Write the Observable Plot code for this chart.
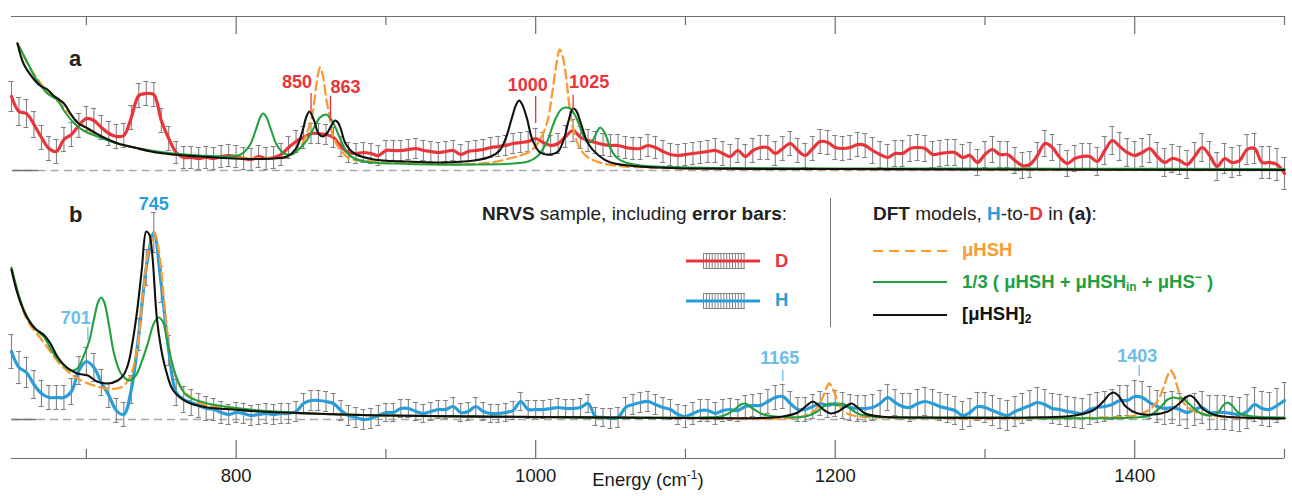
<!DOCTYPE html>
<html><head><meta charset="utf-8">
<script src="https://cdn.jsdelivr.net/npm/d3@7"></script>
<script src="https://cdn.jsdelivr.net/npm/@observablehq/plot@0.6"></script>
<style>
html,body{margin:0;padding:0;background:#fff;}
#wrap{position:relative;width:1292px;height:496px;font-family:"Liberation Sans",Arial,Helvetica,sans-serif;color:#222;overflow:hidden;}
#wrap svg.layer{position:absolute;left:0;top:0;}
.abs{position:absolute;white-space:nowrap;line-height:20px;}
.abs sub{font-size:0.65em;vertical-align:-0.25em;line-height:0;}
.abs sup{font-size:0.65em;vertical-align:0.55em;line-height:0;}
</style></head><body><div id="wrap"></div>
<script>
// ---------------- DATA ----------------
const energy = d3.range(650, 1505, 5); // NRVS sampling grid (cm-1)

// panel a: D sample (arbitrary intensity units)
const dSignal = [
 7.4,5.9,5.7,4.6,3.3,2.2,1.9,3.1,3.6,4.5,
 5.2,5.0,4.3,3.7,3.4,3.5,5.3,7.5,7.7,7.6,
 5.0,3.2,1.8,1.3,1.3,1.2,1.3,1.2,1.4,1.5,
 1.4,1.2,1.1,1.4,1.2,1.3,1.6,2.3,2.9,3.3,
 3.7,3.7,3.6,3.3,2.4,1.8,1.7,1.8,1.7,1.5,
 2.0,2.0,2.0,2.1,2.2,2.0,1.9,1.8,1.9,2.0,
 1.6,1.9,2.0,2.1,2.3,2.4,2.5,2.7,2.8,2.9,
 3.2,2.8,2.5,2.7,3.4,4.0,3.3,3.0,2.8,2.6,
 2.5,2.5,2.3,2.2,2.2,2.5,2.3,1.9,1.6,1.5,
 1.6,1.7,1.8,1.9,2.0,1.7,1.4,2.0,1.4,2.0,
 2.3,2.3,1.7,2.2,2.7,2.0,1.5,2.2,2.9,2.8,
 2.3,2.2,2.3,2.6,2.5,2.0,1.6,1.3,1.7,1.7,
 2.2,2.3,2.2,1.6,1.7,1.8,1.8,1.3,1.5,0.8,
 1.6,2.1,1.6,1.6,1.0,0.5,0.6,1.5,2.7,2.3,
 1.3,0.7,1.2,1.4,1.4,0.9,2.0,3.0,2.4,1.8,
 1.5,1.8,2.2,1.4,0.8,1.2,1.0,0.6,1.4,2.3,
 1.5,0.4,1.2,0.8,1.0,2.1,2.2,0.8,0.8,0.6,
 -0.3];
const dError = [
 1.5,1.4,1.4,1.3,1.2,1.2,1.2,1.2,1.2,1.2,
 1.2,1.2,1.2,1.2,1.2,1.2,1.2,1.2,1.2,1.2,
 1.2,1.2,1.1,1.1,1.1,1.1,1.1,1.1,1.1,1.1,
 1.1,1.1,1.1,1.1,1.1,1.1,1.1,1.1,1.1,1.1,
 1.0,1.0,1.0,1.0,1.0,1.0,1.0,1.0,1.0,1.0,
 1.0,1.0,1.0,1.0,1.0,1.0,1.0,1.0,1.0,1.0,
 1.0,1.0,1.0,1.0,1.0,1.0,1.0,1.0,1.0,1.0,
 1.0,1.0,1.0,1.0,1.1,1.1,1.1,1.1,1.1,1.1,
 1.1,1.1,1.1,1.1,1.1,1.1,1.1,1.1,1.1,1.1,
 1.1,1.1,1.1,1.1,1.2,1.2,1.2,1.2,1.2,1.2,
 1.2,1.2,1.2,1.2,1.2,1.2,1.2,1.2,1.2,1.2,
 1.2,1.2,1.2,1.2,1.2,1.3,1.3,1.3,1.3,1.3,
 1.3,1.3,1.3,1.3,1.3,1.3,1.3,1.3,1.3,1.3,
 1.3,1.3,1.3,1.3,1.3,1.3,1.3,1.3,1.3,1.3,
 1.3,1.3,1.3,1.3,1.3,1.4,1.4,1.4,1.4,1.4,
 1.4,1.4,1.4,1.4,1.4,1.4,1.4,1.4,1.4,1.4,
 1.4,1.4,1.5,1.5,1.5,1.5,1.5,1.6,1.6,1.6,
 1.6];

// panel b: H sample
const hSignal = [
 6.8,5.2,4.7,3.5,2.6,2.2,2.2,2.2,2.8,4.9,
 5.8,5.2,3.7,2.4,0.9,0.5,3.0,8.5,15.2,18.7,
 13.5,6.9,2.7,2.0,1.7,1.4,1.1,1.0,0.7,0.5,
 0.7,0.6,0.4,0.5,0.6,0.5,0.6,0.6,0.8,1.6,
 1.9,1.9,1.8,1.6,0.9,0.4,0.2,0.0,0.1,0.4,
 0.7,0.7,1.1,1.1,0.8,0.6,0.8,1.0,1.0,1.3,
 0.7,0.8,1.3,0.8,0.6,0.6,0.7,0.9,1.8,1.0,
 1.0,1.0,1.1,1.2,1.1,1.1,1.2,1.6,0.3,0.2,
 0.1,0.2,1.2,1.5,1.7,1.8,1.5,1.2,1.0,0.5,
 0.3,0.6,0.9,0.9,0.6,0.9,1.0,0.9,1.3,1.4,
 1.4,1.8,2.2,2.3,1.6,1.0,1.0,1.3,1.6,1.4,
 1.6,1.4,1.2,1.1,1.1,1.2,1.6,2.2,1.7,1.3,
 1.2,1.6,1.8,1.6,1.3,1.1,0.9,0.4,0.7,1.3,
 1.2,0.9,0.6,0.4,0.8,1.1,1.4,1.7,1.5,1.1,
 1.0,0.8,0.7,0.6,1.0,1.2,1.3,1.5,1.9,1.9,
 2.3,2.2,1.7,1.3,1.1,1.2,1.0,0.7,1.0,1.2,
 0.7,0.7,0.7,0.6,0.5,0.8,1.5,1.1,1.0,1.4,
 1.9];
const hError = [
 1.7,1.6,1.5,1.4,1.3,1.2,1.2,1.2,1.3,1.4,
 1.4,1.4,1.3,1.2,1.2,1.2,1.4,1.6,1.8,2.0,
 1.8,1.5,1.3,1.3,1.3,1.2,1.2,1.1,1.1,1.0,
 1.0,1.0,1.0,1.0,1.0,1.0,1.0,1.0,1.0,1.0,
 1.0,1.0,1.0,1.0,1.0,1.0,1.0,1.0,1.0,1.0,
 0.9,0.9,0.9,0.9,0.9,0.9,0.9,0.9,0.9,0.9,
 0.9,0.9,0.9,0.9,0.9,0.9,0.9,0.9,0.9,0.9,
 0.9,0.9,0.9,0.9,0.9,0.9,0.9,0.9,0.9,0.9,
 1.0,1.0,1.0,1.0,1.0,1.0,1.0,1.0,1.0,1.0,
 1.1,1.1,1.1,1.1,1.1,1.1,1.1,1.1,1.1,1.1,
 1.2,1.2,1.2,1.2,1.2,1.2,1.2,1.2,1.2,1.2,
 1.3,1.3,1.3,1.3,1.3,1.3,1.3,1.3,1.3,1.3,
 1.4,1.4,1.4,1.4,1.4,1.4,1.4,1.4,1.4,1.4,
 1.5,1.5,1.5,1.5,1.5,1.5,1.5,1.5,1.5,1.5,
 1.5,1.5,1.5,1.5,1.5,1.5,1.5,1.5,1.5,1.5,
 1.6,1.6,1.6,1.6,1.6,1.6,1.6,1.6,1.6,1.6,
 1.7,1.7,1.7,1.7,1.7,1.7,1.7,1.7,1.7,1.7,
 1.8];

// DFT model spectra [energy, intensity]
const aHSH = [[654,12.7],[661,10.6],[668,9.0],[674,7.9],[681,6.9],[688,5.8],[694,4.9],[701,4.1],[709,3.4],[721,2.7],[732,2.3],[743,1.9],[758,1.6],[776,1.4],[798,1.3],[820,1.2],[832,1.3],[838,1.7],[843,2.4],[847,3.6],[851,5.7],[854,9.0],[856,10.3],[858,9.4],[860,7.3],[862,5.7],[865,3.3],[870,2.0],[876,1.2],[892,0.9],[920,0.7],[950,0.6],[970,0.8],[985,1.3],[995,1.8],[1000,2.4],[1004,3.4],[1008,5.0],[1011,7.7],[1014,10.8],[1016,12.1],[1018,11.4],[1020,9.7],[1023,5.9],[1026,3.6],[1030,2.1],[1035,1.3],[1045,0.7],[1060,0.4],[1080,0.3],[1100,0.2],[1300,0.1],[1500,0.05]];
const aMix = [[654,12.7],[661,10.7],[665,9.5],[670,8.4],[674,7.7],[681,7.0],[685,6.0],[692,4.7],[698,4.0],[709,3.3],[721,2.7],[732,2.3],[743,2.0],[758,1.7],[776,1.5],[795,1.4],[803,1.6],[809,2.5],[813,4.0],[816,5.3],[818,5.7],[820,5.4],[823,4.2],[827,2.6],[832,1.7],[837,1.6],[841,2.0],[845,2.6],[848,3.2],[852,4.3],[856,5.3],[860,5.6],[863,5.2],[866,4.4],[870,3.0],[874,1.8],[879,1.2],[890,0.8],[905,0.7],[930,0.6],[960,0.6],[985,0.7],[995,0.9],[1001,1.4],[1005,2.2],[1008,3.0],[1011,4.3],[1014,5.4],[1017,6.1],[1020,6.3],[1023,6.2],[1026,5.6],[1029,4.6],[1032,3.4],[1035,2.8],[1038,3.0],[1041,3.9],[1043,4.3],[1046,3.8],[1050,2.2],[1054,1.3],[1060,0.8],[1070,0.5],[1090,0.35],[1120,0.25],[1200,0.2],[1350,0.18],[1500,0.15]];
const aDimer = [[654,12.7],[658,10.7],[664,9.3],[669,8.5],[674,8.1],[678,7.5],[685,6.7],[689,5.8],[694,4.8],[701,4.2],[709,3.5],[721,2.7],[732,2.3],[743,1.9],[758,1.6],[776,1.4],[798,1.2],[825,1.2],[834,1.4],[840,2.2],[844,3.8],[847,5.4],[849,5.9],[852,5.0],[855,3.7],[858,3.4],[861,3.8],[864,4.6],[866,5.0],[868,4.8],[870,4.1],[873,2.7],[879,1.7],[892,1.1],[914,0.9],[936,0.8],[959,1.0],[970,1.4],[976,2.0],[980,3.2],[984,5.2],[987,6.6],[989,7.0],[991,6.6],[994,5.3],[998,3.0],[1003,1.8],[1010,1.6],[1015,1.9],[1019,3.2],[1022,5.0],[1025,6.2],[1027,6.0],[1030,4.8],[1035,2.7],[1042,1.5],[1050,0.8],[1065,0.45],[1080,0.3],[1100,0.2],[1200,0.15],[1300,0.1],[1500,0.05]];

const bHSH = [[650,15.0],[655,12.2],[661,9.8],[669,8.2],[676,6.8],[682,5.6],[687,4.9],[694,4.1],[705,3.4],[714,3.1],[723,3.2],[729,4.2],[734,7.2],[738,12.9],[741,16.5],[743,17.6],[745.5,18.7],[747,18.0],[749,16.2],[753,10.2],[757,5.6],[763,3.2],[770,2.2],[776,1.6],[790,1.2],[810,0.9],[850,0.6],[900,0.4],[1000,0.25],[1100,0.15],[1170,0.15],[1180,0.4],[1187,1.0],[1191,2.0],[1194,3.1],[1196,3.6],[1198,3.2],[1201,2.1],[1205,0.9],[1212,0.4],[1230,0.2],[1380,0.2],[1400,0.4],[1410,1.0],[1415,1.8],[1419,3.1],[1422,4.4],[1424,4.9],[1426,4.5],[1429,3.0],[1433,1.6],[1440,0.8],[1450,0.4],[1470,0.2],[1500,0.1]];
const bMix = [[650,15.2],[656,11.9],[661,10.1],[667,8.9],[672,8.2],[678,6.6],[685,5.4],[690,4.9],[694,5.1],[698,6.3],[702,7.9],[705,10.0],[708,11.8],[710,12.2],[712,11.7],[715,9.5],[718,6.9],[721,5.3],[724,4.4],[729,3.9],[733,4.4],[737,5.8],[741,7.6],[745,9.6],[748,10.2],[751,9.8],[754,7.8],[757,5.8],[761,3.9],[767,2.4],[781,1.6],[798,1.2],[816,0.9],[850,0.6],[900,0.4],[1000,0.25],[1110,0.2],[1125,0.35],[1132,0.9],[1137,1.5],[1140,1.6],[1144,1.2],[1152,0.5],[1165,0.25],[1180,0.3],[1188,0.8],[1193,1.4],[1197,1.6],[1201,1.4],[1205,1.6],[1209,1.2],[1215,0.6],[1225,0.3],[1300,0.2],[1400,0.2],[1410,0.4],[1417,1.2],[1422,2.0],[1426,2.2],[1429,2.1],[1432,2.1],[1436,1.6],[1442,0.8],[1450,0.4],[1455,0.6],[1459,1.4],[1462,1.7],[1465,1.4],[1470,0.6],[1480,0.3],[1500,0.2]];
const bDimer = [[650,15.0],[654,12.6],[659,10.6],[665,9.2],[672,8.4],[676,7.6],[681,6.2],[687,5.2],[694,4.6],[701,4.4],[707,3.8],[714,3.6],[721,3.9],[725,4.5],[728,5.6],[731,7.9],[734,11.0],[737,15.0],[740,18.8],[742,18.5],[744,16.5],[747,10.2],[750,7.0],[753,5.0],[758,2.9],[768,1.7],[781,1.2],[798,1.0],[816,0.8],[850,0.6],[900,0.4],[1000,0.25],[1100,0.15],[1150,0.15],[1165,0.3],[1175,0.7],[1181,1.4],[1185,1.8],[1189,1.4],[1193,0.9],[1197,0.6],[1202,0.8],[1207,1.3],[1211,1.6],[1215,1.2],[1220,0.6],[1230,0.3],[1260,0.2],[1330,0.2],[1360,0.4],[1372,0.9],[1379,1.8],[1383,2.5],[1386,2.7],[1389,2.4],[1394,1.3],[1402,0.6],[1412,0.5],[1422,0.8],[1429,1.5],[1434,2.2],[1437,2.4],[1440,2.1],[1446,1.0],[1455,0.4],[1470,0.2],[1500,0.1]];

// axis ticks
const ticksMajor = [800, 1000, 1200, 1400];
const ticksMinor = [700, 900, 1100, 1300, 1500];

// annotated peaks
const peaksA = [850, 863, 1000, 1025];
const peaksB = [701, 745, 1165, 1403];

// ---------------- STYLE / LAYOUT ----------------
const C = {red:"#e9343b", blue:"#2a9dd9", lblue:"#6dbde9", orange:"#f89b34", green:"#22a03f", black:"#111", err:"#838383", axis:"#6e6e6e", base:"#a8a8a8"};
const FONT = '"Liberation Sans", Arial, Helvetica, sans-serif';
const W = 1292, H = 496;
const yTop = [-32.6, 15.4];   // panel a: baseline at 170px, 10 px / unit
const yBot = [-3.9, 41.9];    // panel b: baseline at 419px, 10 px / unit
const layoutA = {850:{ty:8.85,anchor:"end",dx:1,t1:7.7,t2:5.8},863:{ty:8.3,anchor:"start",dx:0,t1:7.4,t2:5.0},1000:{ty:8.55,anchor:"middle",dx:-8,t1:7.4,t2:4.7},1025:{ty:8.8,anchor:"start",dx:-4,t1:7.5,t2:6.0}};
const layoutB = {701:{ty:10.1,anchor:"end",dx:3,t1:9.2,t2:7.9,c:C.lblue},745:{ty:21.55,anchor:"middle",dx:0,t1:null,t2:null,c:C.blue},1165:{ty:6.15,anchor:"middle",dx:-3,t1:4.9,t2:3.8,c:C.lblue},1403:{ty:6.3,anchor:"middle",dx:-2,t1:5.4,t2:4.3,c:C.lblue}};

const D = energy.map((E,i)=>({E, v:dSignal[i], e:dError[i]}));
const Hd = energy.map((E,i)=>({E, v:hSignal[i], e:hError[i]}));

function errMarks(data){
  return [
    Plot.ruleX(data, {x:"E", y1:d=>d.v-d.e, y2:d=>d.v+d.e, stroke:C.err, strokeWidth:1.1}),
    Plot.ruleY(data, {y:d=>d.v+d.e, x1:d=>d.E-1.7, x2:d=>d.E+1.7, stroke:C.err, strokeWidth:1.1}),
    Plot.ruleY(data, {y:d=>d.v-d.e, x1:d=>d.E-1.7, x2:d=>d.E+1.7, stroke:C.err, strokeWidth:1.1})
  ];
}
function modelMarks(hsh, mix, dimer){
  return [
    Plot.line(hsh, {x:d=>d[0], y:d=>d[1], stroke:C.orange, strokeWidth:2.3, strokeDasharray:"9,5", curve:"catmull-rom"}),
    Plot.line(mix, {x:d=>d[0], y:d=>d[1], stroke:C.green, strokeWidth:2.1, curve:"catmull-rom"}),
    Plot.line(dimer, {x:d=>d[0], y:d=>d[1], stroke:C.black, strokeWidth:2.1, curve:"catmull-rom"})
  ];
}
const common = {width:W, height:H, marginLeft:11, marginRight:8, x:{domain:[650,1500], axis:null},
  style:{fontFamily:FONT, background:"transparent", overflow:"visible"}};

const labA = peaksA.map(E=>({E, t:String(E), ...layoutA[E]}));
const labB = peaksB.map(E=>({E, t:String(E), ...layoutB[E]}));

const topPlot = Plot.plot({...common, className:"layer", marginTop:16, marginBottom:0,
  y:{domain:yTop, axis:null},
  marks:[
    Plot.ruleY([yTop[1]], {stroke:C.axis, strokeWidth:1.2}),
    Plot.ruleX(ticksMajor, {y1:yTop[1], y2:yTop[1]-1.8, stroke:C.axis, strokeWidth:1.2}),
    Plot.ruleX(ticksMinor, {y1:yTop[1], y2:yTop[1]-0.9, stroke:C.axis, strokeWidth:1.2}),
    Plot.ruleY([0], {x1:650.5, x2:1500, stroke:C.base, strokeWidth:1.5, strokeDasharray:"8,5"}),
    Plot.ruleY([0], {x1:651, x2:668, stroke:"#777", strokeWidth:1.5}),
    ...errMarks(D),
    Plot.line(D, {x:"E", y:"v", stroke:C.red, strokeWidth:3.2, curve:"catmull-rom"}),
    ...modelMarks(aHSH, aMix, aDimer),
    Plot.ruleX(labA, {x:"E", y1:"t1", y2:"t2", stroke:C.red, strokeWidth:1.3}),
    ...labA.map(l=>Plot.text([l], {x:"E", y:"ty", text:"t", textAnchor:l.anchor, dx:l.dx, fill:C.red, fontSize:18, fontWeight:"bold"}))
  ]});

const botPlot = Plot.plot({...common, className:"layer", marginTop:0, marginBottom:38,
  y:{domain:yBot, axis:null},
  marks:[
    Plot.ruleY([yBot[0]], {stroke:C.axis, strokeWidth:1.2}),
    Plot.ruleX(ticksMajor, {y1:yBot[0], y2:yBot[0]+1.8, stroke:C.axis, strokeWidth:1.2}),
    Plot.ruleX(ticksMinor, {y1:yBot[0], y2:yBot[0]+0.9, stroke:C.axis, strokeWidth:1.2}),
    Plot.axisX({anchor:"bottom", ticks:ticksMajor, tickSize:0, tickPadding:10, tickFormat:d=>String(d), fontSize:18.5, fill:"#1a1a1a", label:null}),
    Plot.text(["Energy (cm-1)"], {frameAnchor:"bottom", dy:27, fontSize:18.5, fill:"#1a1a1a", className:"xlabel"}),
    Plot.ruleY([0], {x1:650, x2:1500, stroke:C.base, strokeWidth:1.5, strokeDasharray:"8,5"}),
    Plot.ruleY([0], {x1:650.5, x2:667, stroke:"#777", strokeWidth:1.5}),
    ...errMarks(Hd),
    Plot.line(Hd, {x:"E", y:"v", stroke:C.blue, strokeWidth:3.2, curve:"catmull-rom"}),
    ...modelMarks(bHSH, bMix, bDimer),
    Plot.ruleX(labB.filter(l=>l.t1!=null), {x:"E", y1:"t1", y2:"t2", stroke:C.lblue, strokeWidth:1.3}),
    ...labB.map(l=>Plot.text([l], {x:"E", y:"ty", text:"t", textAnchor:l.anchor, dx:l.dx, fill:l.c, fontSize:18, fontWeight:"bold"}))
  ]});

const wrap = document.getElementById("wrap");
wrap.appendChild(topPlot);
wrap.appendChild(botPlot);

// superscript in axis label
d3.select(botPlot).selectAll("g.xlabel text").each(function(){
  const t = d3.select(this);
  t.text(null);
  t.append("tspan").text("Energy (cm");
  t.append("tspan").attr("dy","-0.55em").attr("font-size","0.65em").text("-1");
  t.append("tspan").attr("dy","0.36em").text(")");
});

// ---------------- LEGEND & PANEL LETTERS (HTML) ----------------
function addDiv(html, style){ const d=document.createElement("div"); d.className="abs"; d.innerHTML=html; Object.assign(d.style, style); wrap.appendChild(d); return d; }
function errSwatch(color){
  let s = '<svg width="76" height="20" style="display:block">';
  for(let i=0;i<15;i++){ const x=17.5+i*2.9; s+=`<line x1="${x}" x2="${x}" y1="2" y2="18" stroke="${C.err}" stroke-width="1"/>`; }
  s+=`<line x1="17" x2="59" y1="2.5" y2="2.5" stroke="${C.err}"/><line x1="17" x2="59" y1="17.5" y2="17.5" stroke="${C.err}"/>`;
  s+=`<line x1="0" x2="74" y1="10" y2="10" stroke="${color}" stroke-width="3"/></svg>`;
  return s;
}
function lineSwatch(color, dash){
  return `<svg width="76" height="10" style="display:block"><line x1="0" x2="74" y1="5" y2="5" stroke="${color}" stroke-width="2.2" ${dash?`stroke-dasharray="${dash}"`:""}/></svg>`;
}
addDiv('a', {left:"69px", top:"48px", fontSize:"22px", fontWeight:"bold", lineHeight:"22px"});
addDiv('b', {left:"69px", top:"204px", fontSize:"22px", fontWeight:"bold", lineHeight:"22px"});

addDiv('<b>NRVS</b> sample, including <b>error bars</b>:', {right:(W-787)+"px", top:"204px", fontSize:"19px"});
addDiv(`<b>DFT</b> models, <b style="color:${C.blue}">H</b>-to-<b style="color:${C.red}">D</b> in <b>(a)</b>:`, {left:"873px", top:"204px", fontSize:"19px"});
addDiv('', {left:"830px", top:"198px", width:"1px", height:"129px", background:"#777"});

addDiv(errSwatch(C.red), {left:"686px", top:"251px", lineHeight:"0"});
addDiv(errSwatch(C.blue), {left:"686px", top:"291px", lineHeight:"0"});
addDiv('D', {left:"775px", top:"251px", fontSize:"18.5px", fontWeight:"bold", color:C.red});
addDiv('H', {left:"775px", top:"290px", fontSize:"18.5px", fontWeight:"bold", color:C.blue});

addDiv(lineSwatch(C.orange, "10,6"), {left:"873px", top:"246px", lineHeight:"0"});
addDiv(lineSwatch(C.green), {left:"873px", top:"277px", lineHeight:"0"});
addDiv(lineSwatch(C.black), {left:"873px", top:"310px", lineHeight:"0"});
addDiv('μHSH', {left:"962px", top:"240px", fontSize:"18.5px", fontWeight:"bold", color:C.orange});
addDiv('1/3 ( μHSH + μHSH<sub>in</sub> + μHS<sup>−</sup> )', {left:"962px", top:"272px", fontSize:"18.5px", fontWeight:"bold", color:C.green});
addDiv('[μHSH]<sub>2</sub>', {left:"962px", top:"304px", fontSize:"18.5px", fontWeight:"bold", color:C.black});
</script></body></html>
